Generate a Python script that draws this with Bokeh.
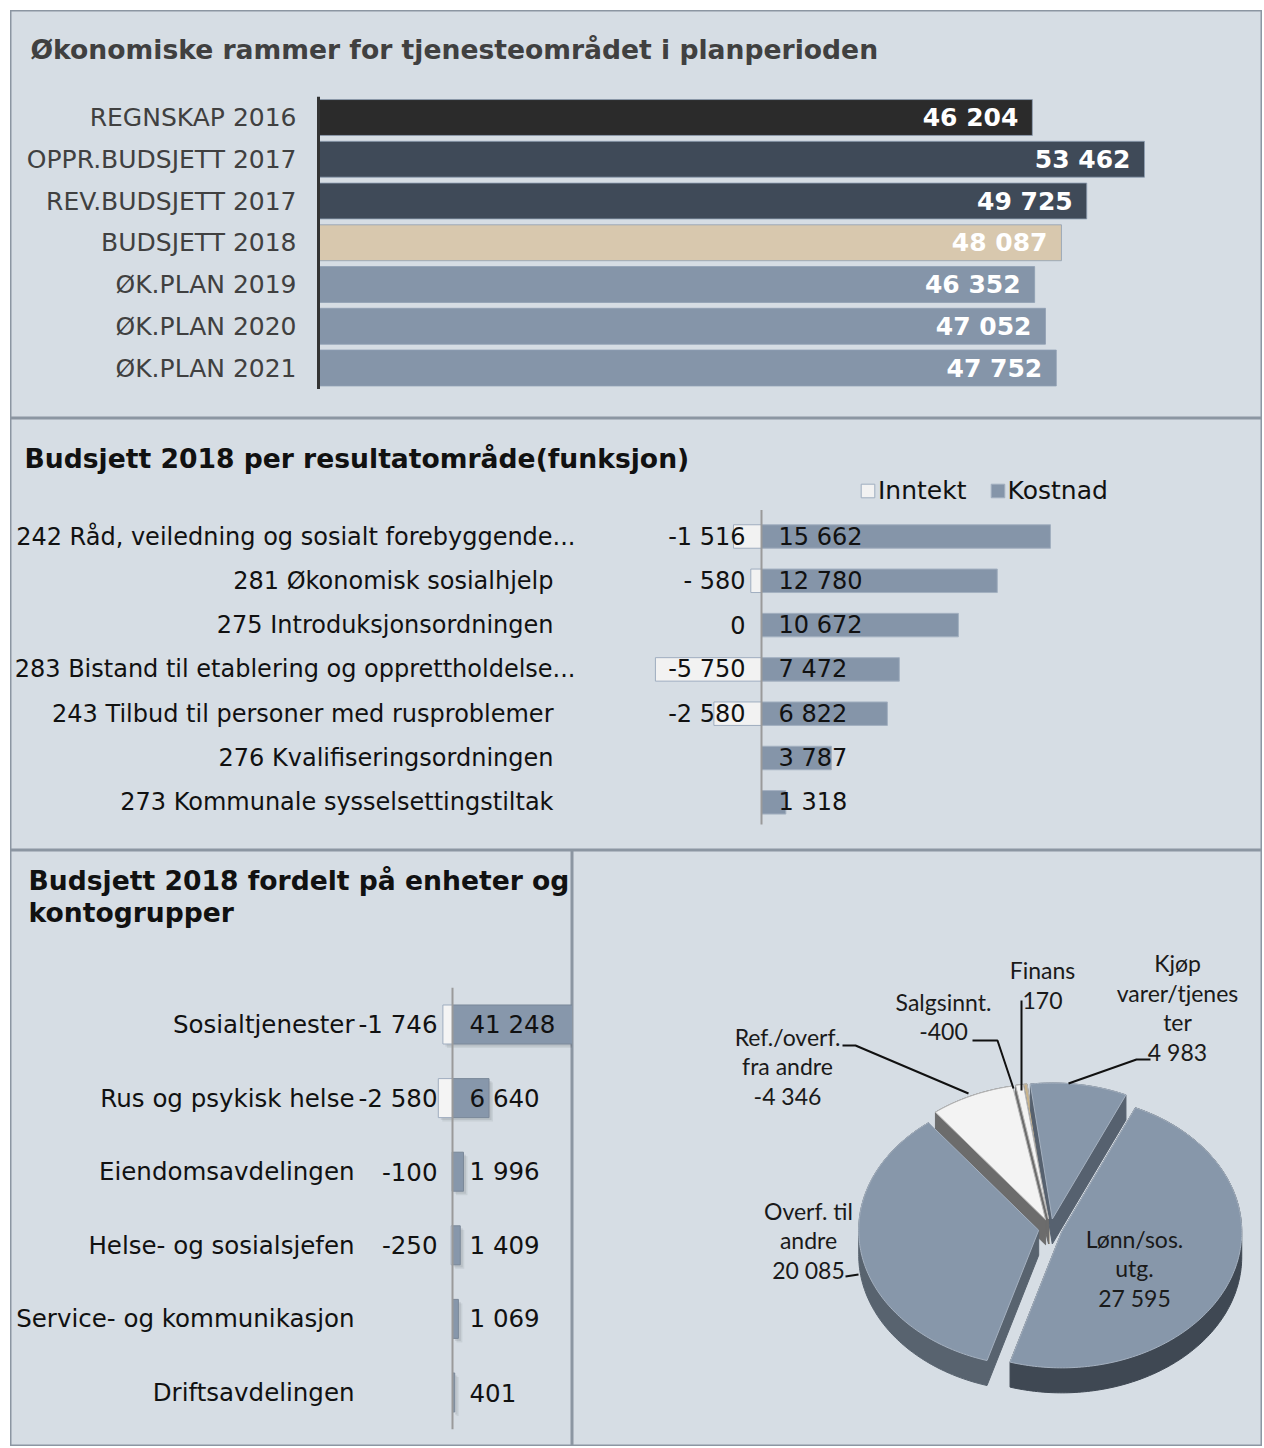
import numpy as np
from bokeh.plotting import figure
from bokeh.models import Range1d, Label, Legend, LegendItem, Spacer
from bokeh.layouts import column, row
from bokeh.embed import file_html
from bokeh.resources import INLINE
from bokeh.core.properties import value

# ---------------- data ----------------
plan_labels = ["REGNSKAP 2016", "OPPR.BUDSJETT 2017", "REV.BUDSJETT 2017", "BUDSJETT 2018",
               "ØK.PLAN 2019", "ØK.PLAN 2020", "ØK.PLAN 2021"]
plan_values = [46204, 53462, 49725, 48087, 46352, 47052, 47752]

func_labels = ["242 Råd, veiledning og sosialt forebyggende...", "281 Økonomisk sosialhjelp",
               "275 Introduksjonsordningen", "283 Bistand til etablering og opprettholdelse...",
               "243 Tilbud til personer med rusproblemer", "276 Kvalifiseringsordningen",
               "273 Kommunale sysselsettingstiltak"]
func_inntekt = [-1516, -580, 0, -5750, -2580, None, None]
func_kostnad = [15662, 12780, 10672, 7472, 6822, 3787, 1318]

unit_labels = ["Sosialtjenester", "Rus og psykisk helse", "Eiendomsavdelingen",
               "Helse- og sosialsjefen", "Service- og kommunikasjon", "Driftsavdelingen"]
unit_inntekt = [-1746, -2580, -100, -250, None, None]
unit_kostnad = [41248, 6640, 1996, 1409, 1069, 401]

pie_names = ["Kjøp\nvarer/tjenes\nter", "Lønn/sos.\nutg.", "Overf. til\nandre",
             "Ref./overf.\nfra andre", "Salgsinnt.", "Finans"]
pie_values = [4983, 27595, 20085, -4346, -400, 170]

# ---------------- helpers ----------------
def nb(v):
    if v is None:
        return ""
    s = f"{abs(int(v)):,}".replace(",", " ")
    return ("-" if v < 0 else "") + s

def nb_excel(v):
    # "# ##0" style: small negatives get a gap after the sign
    if v is None:
        return ""
    if -1000 < v < 0:
        return "- " + str(abs(v))
    return nb(v)

def nan(lst):
    return [np.nan if v is None else v for v in lst]

W = 1252
BG = "#d6dde4"
EDGE = "#8c96a2"
FONT = "DejaVu Sans"
GREY = "#8595a9"
TITLE_SIZE = "26.6px"

def panel(w, h, xr, yr):
    p = figure(width=w, height=h, x_range=xr, y_range=yr, output_backend="svg",
               toolbar_location=None, x_axis_location=None, y_axis_location=None,
               min_border=0)
    p.xgrid.grid_line_color = None
    p.ygrid.grid_line_color = None
    p.background_fill_color = BG
    p.border_fill_color = BG
    p.outline_line_color = EDGE
    p.outline_line_width = 2
    return p

# ---------------- panel 1 ----------------
H1, ROW1, STEP1, ZX1, K1 = 408, 107, 41.75, 308, 0.01545
n1 = len(plan_labels)
y1 = [-i for i in range(n1)]
p1 = panel(W, H1, Range1d(-ZX1 / K1, (W - ZX1) / K1),
           Range1d(-(H1 - ROW1) / STEP1, ROW1 / STEP1))
plan_colors = ["#2b2b2b", "#3f4a58", "#3f4a58", "#d8c8ae", GREY, GREY, GREY]
p1.hbar(y=y1, left=0, right=plan_values, height=0.86, fill_color=plan_colors,
        line_color="#8e9fb3", line_alpha=0.8)
p1.text(x=plan_values, y=y1, text=[nb(v) for v in plan_values], x_offset=-14,
        text_align="right", text_baseline="middle", text_color="white",
        text_font_style="bold", text_font_size="25px", text_font=value(FONT))
p1.text(x=[0] * n1, y=y1, text=plan_labels, x_offset=-22, text_align="right",
        text_baseline="middle", text_color="#404040", text_font_size="25px",
        text_font=value(FONT))
p1.segment(x0=[0], y0=[0.5], x1=[0], y1=[-(n1 - 1) - 0.5], line_color="#333333", line_width=3)
p1.add_layout(Label(x=20, y=H1 - 39, x_units="screen", y_units="screen",
                    text="Økonomiske rammer for tjenesteområdet i planperioden",
                    text_baseline="middle", text_font=FONT, text_font_style="bold",
                    text_font_size=TITLE_SIZE, text_color="#404040"))

# ---------------- panel 2 ----------------
H2, ROW2, STEP2, ZX2, K2 = 432, 118, 44.3, 751, 0.01845
n2 = len(func_labels)
y2 = [-i for i in range(n2)]
p2 = panel(W, H2, Range1d(-ZX2 / K2, (W - ZX2) / K2),
           Range1d(-(H2 - ROW2) / STEP2, ROW2 / STEP2))
r_inn = p2.hbar(y=y2, left=nan(func_inntekt), right=0, height=0.53, fill_color="#f2f2f2",
                line_color="#9fadbf", line_width=1)
r_kos = p2.hbar(y=y2, left=0, right=func_kostnad, height=0.53, fill_color=GREY,
                line_color="#a3b0c0", line_width=1)
p2.segment(x0=[0], y0=[0.6], x1=[0], y1=[-(n2 - 1) - 0.5], line_color="#9a9a9a", line_width=2)
lab_off = [-186 if s.endswith("...") else -208 for s in func_labels]
p2.text(x=[0] * n2, y=y2, text=func_labels, x_offset=lab_off, text_align="right",
        text_baseline="middle", text_color="#111111", text_font_size="24px",
        text_font=value(FONT))
p2.text(x=[0] * n2, y=y2, text=[nb_excel(v) for v in func_inntekt], x_offset=-16,
        text_align="right", text_baseline="middle", text_color="#111111",
        text_font_size="24px", text_font=value(FONT))
p2.text(x=[0] * n2, y=y2, text=[nb(v) for v in func_kostnad], x_offset=17,
        text_align="left", text_baseline="middle", text_color="#111111",
        text_font_size="24px", text_font=value(FONT))
p2.add_layout(Label(x=14, y=H2 - 40, x_units="screen", y_units="screen",
                    text="Budsjett 2018 per resultatområde(funksjon)",
                    text_baseline="middle", text_font=FONT, text_font_style="bold",
                    text_font_size=TITLE_SIZE, text_color="#111111"))
leg = Legend(items=[LegendItem(label="Inntekt", renderers=[r_inn]),
                    LegendItem(label="Kostnad", renderers=[r_kos])],
             location=(849, 345), orientation="horizontal", glyph_width=17, glyph_height=17,
             label_text_font_size="25px", label_text_font=FONT, label_standoff=2,
             spacing=22, padding=0, margin=0, border_line_color=None,
             background_fill_alpha=0, label_height=25, label_text_color="#111111")
p2.add_layout(leg)

# ---------------- panel 3 (left) ----------------
H3, W3, ROW3, STEP3, ZX3, K3 = 596, 562, 174, 73.6, 442, 0.0055
n3 = len(unit_labels)
y3 = [-i for i in range(n3)]
p3 = panel(W3, H3, Range1d(-ZX3 / K3, (W3 - ZX3) / K3),
           Range1d(-(H3 - ROW3) / STEP3, ROW3 / STEP3))
# soft drop shadow (offsets of a few pixels, converted to data units)
inn3 = np.array(nan(unit_inntekt), dtype=float)
kos3 = np.array(unit_kostnad, dtype=float)
for px_off, alpha in [(4, 0.07), (2.5, 0.09)]:
    dx, dy = px_off / K3, px_off / STEP3
    left_sh = np.where(np.isnan(inn3), 0, inn3) + dx
    p3.hbar(y=np.array(y3) - dy, left=left_sh, right=kos3 + dx, height=0.53,
            fill_color="#1e2630", fill_alpha=alpha, line_color=None)
p3.hbar(y=y3, left=nan(unit_inntekt), right=0, height=0.53, fill_color="#f4f4f4",
        line_color="#9fadbf", line_width=1)
p3.hbar(y=y3, left=0, right=unit_kostnad, height=0.53, fill_color="#8797ab",
        line_color="#7a8899", line_width=1)
p3.segment(x0=[0], y0=[0.5], x1=[0], y1=[-(n3 - 1) - 0.5], line_color="#9a9a9a", line_width=2)
p3.text(x=[0] * n3, y=y3, text=unit_labels, x_offset=-98, text_align="right",
        text_baseline="middle", text_color="#111111", text_font_size="24.5px",
        text_font=value(FONT))
p3.text(x=[0] * n3, y=y3, text=[nb(v) for v in unit_inntekt], x_offset=-15,
        text_align="right", text_baseline="middle", text_color="#111111",
        text_font_size="24.5px", text_font=value(FONT))
p3.text(x=[0] * n3, y=y3, text=[nb(v) for v in unit_kostnad], x_offset=17,
        text_align="left", text_baseline="middle", text_color="#111111",
        text_font_size="24.5px", text_font=value(FONT))
p3.add_layout(Label(x=18, y=H3 - 30, x_units="screen", y_units="screen",
                    text="Budsjett 2018 fordelt på enheter og", text_baseline="middle",
                    text_font=FONT, text_font_style="bold", text_font_size=TITLE_SIZE,
                    text_color="#111111"))
p3.add_layout(Label(x=18, y=H3 - 62, x_units="screen", y_units="screen",
                    text="kontogrupper", text_baseline="middle",
                    text_font=FONT, text_font_style="bold", text_font_size=TITLE_SIZE,
                    text_color="#111111"))

# ---------------- panel 4 (3D pie) ----------------
W4 = W + 10 - (W3 + 10)
p4 = panel(W4, H3, Range1d(0, W4), Range1d(0, H3))
def up(d):
    return H3 - d
CX, CY, RX, RY, DEPTH, EXPL = 478, up(378), 180, 136, 25, 12
START = 97.0

def convex_hull(points):
    pts = sorted(set((round(x, 4), round(y, 4)) for x, y in points))
    if len(pts) <= 2:
        return pts
    def cross(o, a, b):
        return (a[0] - o[0]) * (b[1] - o[1]) - (a[1] - o[1]) * (b[0] - o[0])
    lower, upper = [], []
    for pt in pts:
        while len(lower) >= 2 and cross(lower[-2], lower[-1], pt) <= 0:
            lower.pop()
        lower.append(pt)
    for pt in reversed(pts):
        while len(upper) >= 2 and cross(upper[-2], upper[-1], pt) <= 0:
            upper.pop()
        upper.append(pt)
    return lower[:-1] + upper[:-1]

absvals = np.abs(np.array(pie_values, dtype=float))
spans = absvals / absvals.sum() * 360.0
top_col = ["#8797aa", "#8797aa", "#8797aa", "#f3f3f3", "#f3f3f3", "#c9b38a"]
side_col = ["#56616f", "#3f4853", "#58636f", "#6c6c6c", "#6c6c6c", "#8a7654"]
slices = []
a = START
for i, sp in enumerate(spans):
    a0, a1 = a, a - sp
    a = a1
    mid = np.radians((a0 + a1) / 2)
    ox = CX + EXPL * np.cos(mid)
    oy = CY + EXPL * 0.8 * np.sin(mid)
    t = np.radians(np.linspace(a0, a1, max(3, int(sp) + 2)))
    xs = np.concatenate([[ox], ox + RX * np.cos(t)])
    ys = np.concatenate([[oy], oy + RY * np.sin(t)])
    slices.append(dict(i=i, xs=xs, ys=ys, mid=mid, ox=ox, oy=oy))

order = sorted(slices, key=lambda s: -np.sin(s["mid"]))
for s in order:
    pts = list(zip(s["xs"], s["ys"])) + list(zip(s["xs"], s["ys"] - DEPTH))
    h = convex_hull(pts)
    p4.patch([q[0] for q in h], [q[1] for q in h], fill_color=side_col[s["i"]],
             line_color=side_col[s["i"]], line_width=1)
    p4.patch(list(s["xs"]), list(s["ys"]), fill_color=top_col[s["i"]],
             line_color="#a5b1c0" if s["i"] < 3 else "#b8b8b8", line_width=1)

# label layout (x, y measured downward from panel top): text centre, rim point, leader path
pie_layout = [
    ((605, 157), (496, 233), [(564, 209), (578, 209)]),
    ((562, 418), None, None),
    ((236, 390), (286, 424), [(273, 426)]),
    ((215, 216), (396, 243), [(283, 195), (270, 195)]),
    ((371, 166), (441, 238), [(425, 190), (400, 190)]),
    ((470, 134.5), (449, 240), [(449, 150)]),
]
lx, ly, lt = [], [], []
for i, (tc, rim, lead) in enumerate(pie_layout):
    lx.append(tc[0])
    ly.append(up(tc[1]))
    lt.append(pie_names[i] + "\n" + nb(pie_values[i]))
    if lead is not None:
        path = [rim] + lead
        p4.line([q[0] for q in path], [up(q[1]) for q in path],
                line_color="#111111", line_width=2)
p4.text(x=lx, y=ly, text=lt, text_align="center", text_baseline="middle",
        text_font=value("Lato"), text_font_size="23px", text_color="#1a1a1a",
        text_line_height=1.07)

content = column(p1, p2, row(p3, p4, spacing=0), spacing=0)
layout = column(Spacer(height=10), row(Spacer(width=10), content, spacing=0), spacing=0)
open("out.html", "w").write(file_html(layout, INLINE))
